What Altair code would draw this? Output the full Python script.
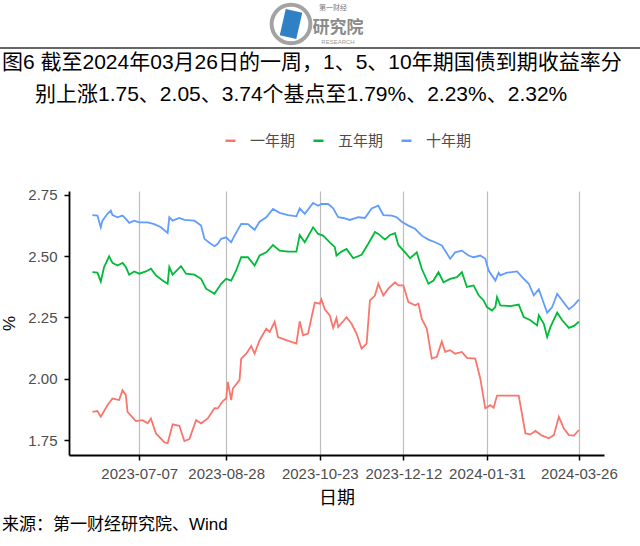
import altair as alt
import pandas as pd

# ---------------- data ----------------
series_names = ["一年期", "五年期", "十年期"]
series_colors = ["#F8766D", "#00BA38", "#619CFF"]

dates_1y = ["2023-06-09","2023-06-12","2023-06-14","2023-06-18","2023-06-21","2023-06-25","2023-06-27","2023-06-29",
            "2023-06-30","2023-07-05","2023-07-09","2023-07-12","2023-07-14","2023-07-17","2023-07-22","2023-07-24",
            "2023-07-27","2023-07-31","2023-08-03","2023-08-06","2023-08-10","2023-08-13","2023-08-17","2023-08-21",
            "2023-08-23","2023-08-26","2023-08-28","2023-08-29","2023-08-31","2023-09-01","2023-09-05","2023-09-06",
            "2023-09-09","2023-09-12","2023-09-14","2023-09-17","2023-09-21","2023-09-23","2023-09-26","2023-09-28",
            "2023-10-03","2023-10-09","2023-10-11","2023-10-13","2023-10-16","2023-10-20","2023-10-23","2023-10-24",
            "2023-10-26","2023-10-29","2023-10-31","2023-11-02","2023-11-03","2023-11-06","2023-11-08","2023-11-11",
            "2023-11-14","2023-11-17","2023-11-20","2023-11-22","2023-11-25","2023-11-27","2023-11-30","2023-12-03",
            "2023-12-07","2023-12-09","2023-12-12","2023-12-15","2023-12-19","2023-12-21","2023-12-23","2023-12-26",
            "2023-12-29","2024-01-01","2024-01-04","2024-01-06","2024-01-09","2024-01-12","2024-01-16","2024-01-19",
            "2024-01-24","2024-01-27","2024-01-29","2024-01-30","2024-02-02","2024-02-04","2024-02-06","2024-02-12",
            "2024-02-19","2024-02-23","2024-02-26","2024-02-29","2024-03-04","2024-03-08","2024-03-11","2024-03-14",
            "2024-03-17","2024-03-20","2024-03-23","2024-03-26"]
vals_1y = [1.865,1.868,1.845,1.892,1.919,1.913,1.953,1.933,
           1.865,1.827,1.831,1.818,1.838,1.777,1.741,1.737,
           1.814,1.808,1.746,1.754,1.831,1.818,1.838,1.880,
           1.879,1.909,1.919,1.987,1.913,1.960,1.994,2.082,
           2.102,2.133,2.102,2.157,2.204,2.190,2.232,2.170,
           2.157,2.143,2.234,2.177,2.184,2.310,2.306,2.323,
           2.283,2.258,2.207,2.247,2.211,2.234,2.251,2.224,
           2.184,2.123,2.143,2.319,2.339,2.387,2.339,2.367,
           2.393,2.380,2.380,2.312,2.299,2.306,2.244,2.204,
           2.082,2.089,2.152,2.109,2.116,2.102,2.109,2.085,
           2.082,2.001,1.919,1.879,1.892,1.882,1.931,1.931,
           1.931,1.777,1.773,1.787,1.768,1.757,1.770,1.845,
           1.797,1.770,1.768,1.791]

dates_5y = ["2023-06-09","2023-06-12","2023-06-14","2023-06-16","2023-06-19","2023-06-21","2023-06-24","2023-06-27",
            "2023-06-29","2023-07-01","2023-07-04","2023-07-07","2023-07-11","2023-07-14","2023-07-17","2023-07-21",
            "2023-07-24","2023-07-25","2023-07-27","2023-08-01","2023-08-04","2023-08-09","2023-08-13","2023-08-16",
            "2023-08-21","2023-08-25","2023-08-28","2023-08-31","2023-09-03","2023-09-06","2023-09-10","2023-09-14",
            "2023-09-17","2023-09-21","2023-09-25","2023-09-29","2023-10-04","2023-10-09","2023-10-11","2023-10-14",
            "2023-10-19","2023-10-22","2023-10-25","2023-10-29","2023-11-01","2023-11-02","2023-11-05","2023-11-08",
            "2023-11-12","2023-11-17","2023-11-21","2023-11-25","2023-11-27","2023-12-01","2023-12-04","2023-12-07",
            "2023-12-09","2023-12-13","2023-12-16","2023-12-20","2023-12-23","2023-12-27","2023-12-30","2024-01-02",
            "2024-01-05","2024-01-09","2024-01-13","2024-01-16","2024-01-19","2024-01-23","2024-01-26","2024-01-29",
            "2024-01-31","2024-02-03","2024-02-05","2024-02-06","2024-02-08","2024-02-14","2024-02-19","2024-02-22",
            "2024-02-26","2024-03-01","2024-03-02","2024-03-05","2024-03-07","2024-03-09","2024-03-13","2024-03-16",
            "2024-03-20","2024-03-23","2024-03-26"]
vals_5y = [2.434,2.432,2.396,2.455,2.499,2.472,2.461,2.472,
           2.455,2.424,2.437,2.428,2.437,2.448,2.421,2.400,
           2.387,2.455,2.424,2.459,2.428,2.424,2.407,2.367,
           2.346,2.387,2.407,2.400,2.441,2.495,2.495,2.461,
           2.502,2.515,2.545,2.522,2.518,2.518,2.586,2.556,
           2.617,2.590,2.583,2.556,2.536,2.502,2.518,2.529,
           2.491,2.505,2.550,2.598,2.590,2.567,2.586,2.593,
           2.545,2.515,2.491,2.515,2.448,2.387,2.400,2.434,
           2.393,2.407,2.414,2.434,2.374,2.380,2.340,2.319,
           2.292,2.278,2.292,2.333,2.299,2.296,2.302,2.251,
           2.238,2.217,2.258,2.224,2.170,2.211,2.269,2.238,
           2.207,2.215,2.232]

dates_10y = ["2023-06-09","2023-06-12","2023-06-14","2023-06-15","2023-06-18","2023-06-20","2023-06-21","2023-06-24",
             "2023-06-27","2023-06-29","2023-07-01","2023-07-04","2023-07-07","2023-07-12","2023-07-16","2023-07-20",
             "2023-07-24","2023-07-25","2023-07-27","2023-07-31","2023-08-03","2023-08-09","2023-08-13","2023-08-15",
             "2023-08-18","2023-08-21","2023-08-23","2023-08-25","2023-08-28","2023-08-31","2023-09-02","2023-09-06",
             "2023-09-10","2023-09-14","2023-09-17","2023-09-21","2023-09-25","2023-09-29","2023-10-04","2023-10-09",
             "2023-10-11","2023-10-14","2023-10-19","2023-10-22","2023-10-24","2023-10-28","2023-10-31","2023-11-03",
             "2023-11-06","2023-11-10","2023-11-15","2023-11-19","2023-11-23","2023-11-27","2023-11-30","2023-12-05",
             "2023-12-08","2023-12-11","2023-12-15","2023-12-19","2023-12-23","2023-12-27","2023-12-31","2024-01-04",
             "2024-01-09","2024-01-12","2024-01-16","2024-01-20","2024-01-23","2024-01-27","2024-01-30","2024-02-01",
             "2024-02-05","2024-02-07","2024-02-08","2024-02-12","2024-02-18","2024-02-21","2024-02-25","2024-02-28",
             "2024-03-02","2024-03-04","2024-03-07","2024-03-10","2024-03-13","2024-03-16","2024-03-20","2024-03-23",
             "2024-03-26"]
vals_10y = [2.667,2.665,2.617,2.644,2.672,2.685,2.667,2.658,
            2.665,2.651,2.635,2.644,2.637,2.637,2.630,2.617,
            2.594,2.658,2.644,2.655,2.647,2.644,2.624,2.570,
            2.554,2.540,2.550,2.570,2.576,2.556,2.583,2.631,
            2.630,2.607,2.640,2.658,2.692,2.676,2.667,2.662,
            2.694,2.672,2.716,2.705,2.712,2.712,2.694,2.658,
            2.655,2.647,2.658,2.655,2.694,2.705,2.667,2.665,
            2.658,2.640,2.624,2.611,2.583,2.567,2.556,2.543,
            2.489,2.515,2.522,2.502,2.495,2.502,2.489,2.441,
            2.400,2.432,2.421,2.432,2.437,2.414,2.387,2.340,
            2.364,2.326,2.269,2.292,2.346,2.319,2.283,2.299,
            2.322]

tick_dates = [(2023, 7, 7), (2023, 8, 28), (2023, 10, 23), (2023, 12, 12), (2024, 1, 31), (2024, 3, 26)]
y_ticks = [1.75, 2.00, 2.25, 2.50, 2.75]

title_line1 = "图6  截至2024年03月26日的一周，1、5、10年期国债到期收益率分"
title_line2 = "别上涨1.75、2.05、3.74个基点至1.79%、2.23%、2.32%"
source_text = "来源：第一财经研究院、Wind"
x_title = "日期"
y_title = "%"

# ---------------- table ----------------
rows = []
for name, ds, vs in zip(series_names, [dates_1y, dates_5y, dates_10y], [vals_1y, vals_5y, vals_10y]):
    for d, v in zip(ds, vs):
        rows.append({"date": d, "value": v, "series": name})
df = pd.DataFrame(rows)

# ---------------- layout ----------------
PL, PT, PW, PH = 69, 191, 535, 264
W, H = 640, 546
CJK = "Noto Sans CJK SC"
MIX = "Liberation Sans, Noto Sans CJK SC"

one = pd.DataFrame({"k": [0]})

lines = alt.Chart(df).mark_line(strokeWidth=1.8).encode(
    x=alt.X("date:T",
            scale=alt.Scale(type="utc",
                            domain=[alt.DateTime(year=2023, month=5, date=26, utc=True),
                                    alt.DateTime(year=2024, month=4, date=10, utc=True)]),
            axis=alt.Axis(values=[alt.DateTime(year=y, month=m, date=d, utc=True) for y, m, d in tick_dates],
                          format="%Y-%m-%d", grid=True, gridColor="#bdbdbd", gridWidth=1.2,
                          labelPadding=6, title=x_title, titleX=PW / 2, titleY=43,
                          titleBaseline="middle", titleAlign="center",
                          titleFont=CJK, titleFontSize=18)),
    y=alt.Y("value:Q",
            scale=alt.Scale(domain=[1.689, 2.765], nice=False, zero=False),
            axis=alt.Axis(values=y_ticks, format=".2f", grid=False, labelPadding=7,
                          title=y_title, titleX=9 - PL, titleY=323 - PT, titleAngle=270,
                          titleBaseline="middle", titleAlign="center",
                          titleFont="Liberation Sans", titleFontSize=17)),
    color=alt.Color("series:N",
                    scale=alt.Scale(domain=series_names, range=series_colors),
                    legend=alt.Legend(orient="none", legendX=154, legendY=-58, direction="horizontal",
                                      title=None, symbolType="stroke", symbolSize=100,
                                      symbolStrokeWidth=2.5, labelFontSize=15, labelFont=CJK,
                                      labelColor="#4d4d4d", labelOffset=12, columnPadding=12)),
)


def text_layer(txt, x, y, size, color="#000000", font=MIX, align="left", weight="normal"):
    return alt.Chart(one).mark_text(align=align, baseline="middle", font=font, fontSize=size,
                                    color=color, fontWeight=weight).encode(
        x=alt.value(x - PL), y=alt.value(y - PT), text=alt.value(txt))


t1 = text_layer(title_line1, 2, 63, 21)
t2 = text_layer(title_line2, 35, 95, 21)
src = text_layer(source_text, 2, 525, 17)

divider = alt.Chart(one).mark_rule(color="#333333", strokeWidth=1.5).encode(
    x=alt.value(0 - PL), x2=alt.value(W - PL), y=alt.value(48 - PT))

# logo
ring = alt.Chart(one).mark_point(shape="circle", size=1500, filled=False, color="#a3a3a3",
                                 strokeWidth=4, opacity=1).encode(
    x=alt.value(291 - PL), y=alt.value(24 - PT))
book = alt.Chart(one).mark_point(shape="M -0.35 -1 L 0.75 -0.75 L 0.35 1 L -0.75 0.75 Z",
                                 size=900, filled=True, color="#2f80c4", opacity=1).encode(
    x=alt.value(291 - PL), y=alt.value(24 - PT))
logo1 = text_layer("第一财经", 333, 8, 7, color="#7a7a7a", font=CJK, align="center")
logo2 = text_layer("研究院", 338, 28, 17, color="#8a8a8a", font=CJK, align="center", weight="bold")
logo3 = text_layer("RESEARCH", 338, 42, 6, color="#9a9a9a", font="Liberation Sans", align="center")

chart = alt.layer(lines, divider, ring, book, logo1, logo2, logo3, t1, t2, src).properties(
    width=PW, height=PH,
    padding={"left": PL, "top": PT, "right": W - PL - PW, "bottom": H - PT - PH},
    autosize=alt.AutoSizeParams(type="none"),
    background="white",
).configure_view(stroke=None).configure_axis(
    domainColor="#000000", domainWidth=1.8, tickColor="#000000", tickWidth=1.5, tickSize=5,
    labelColor="#4d4d4d", labelFont="Liberation Sans", labelFontSize=15,
    titleColor="#000000", titleFontWeight="normal",
)

chart.save("out.html", embed_options={"renderer": "svg", "actions": False})
